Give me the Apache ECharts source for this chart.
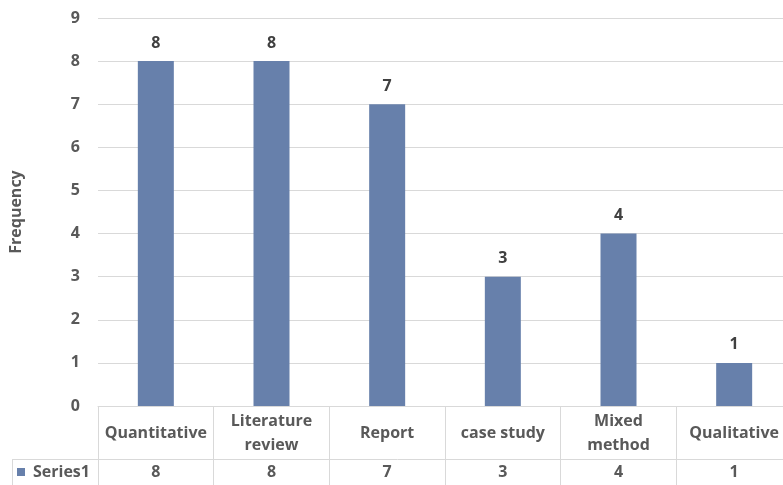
<!DOCTYPE html>
<html>
<head>
<meta charset="utf-8">
<style>
  html, body { margin: 0; padding: 0; background: #fff; }
  #chart { width: 783px; height: 485px; }
</style>
<script src="https://cdn.jsdelivr.net/npm/echarts@6/dist/echarts.min.js"></script>
</head>
<body>
<div id="chart"></div>
<script>
// Study types and how often each one appears
const categories = ['Quantitative', 'Literature\nreview', 'Report', 'case study', 'Mixed\nmethod', 'Qualitative'];
const seriesName = 'Series1';
const values = [8, 8, 7, 3, 4, 1];
const yTicks = [0, 1, 2, 3, 4, 5, 6, 7, 8, 9];

const FONT = '"Open Sans", Lato, sans-serif';
const TEXT = '#595959';
const LINE = '#d9d9d9';
const BAR = '#6780ab';

const chart = echarts.init(document.getElementById('chart'), null, { renderer: 'canvas' });

// the plot runs a little past the right edge of the canvas
const gridLeft = 98, gridWidth = 694, gridTop = 18, gridBottom = 79;
const H = 485, W = 783;
const rowSplit = 459;              // line between header row and values row

chart.setOption({
  animation: false,
  textStyle: { fontFamily: FONT },
  grid: {
    left: gridLeft, width: gridWidth, top: gridTop, bottom: gridBottom,
    containLabel: false,
    outerBoundsMode: 'none'
  },
  legend: {
    data: [seriesName],
    left: 17,
    top: rowSplit + 5,
    itemWidth: 8,
    itemHeight: 8,
    icon: 'rect',
    padding: [0, 0, 0, 0],
    textStyle: { color: TEXT, fontWeight: 'bold', fontSize: 16, fontFamily: FONT, padding: [0, 0, 0, 3] }
  },
  xAxis: [
    {
      type: 'category',
      data: categories,
      position: 'bottom',
      axisLine: { show: true, lineStyle: { color: LINE, width: 1 } },
      axisTick: { show: true, length: gridBottom, alignWithLabel: false, lineStyle: { color: LINE, width: 1 } },
      axisLabel: {
        interval: 0,
        margin: 27,
        verticalAlign: 'middle',
        color: TEXT,
        fontWeight: 'bold',
        fontSize: 16,
        lineHeight: 24,
        fontFamily: FONT
      }
    },
    {
      type: 'category',
      data: values.map(String),
      position: 'bottom',
      axisLine: { show: false },
      axisTick: { show: false },
      axisLabel: {
        interval: 0,
        margin: 66,
        verticalAlign: 'middle',
        color: TEXT,
        fontWeight: 'bold',
        fontSize: 16,
        fontFamily: FONT
      }
    }
  ],
  yAxis: {
    type: 'value',
    min: yTicks[0],
    max: yTicks[yTicks.length - 1],
    interval: 1,
    name: 'Frequency',
    nameLocation: 'middle',
    nameGap: 74,
    nameTextStyle: { color: TEXT, fontWeight: 'bold', fontSize: 16, fontFamily: FONT },
    axisLine: { show: false },
    axisTick: { show: false },
    splitLine: { lineStyle: { color: LINE, width: 1 } },
    axisLabel: { margin: 18, color: TEXT, fontWeight: 'bold', fontSize: 16, fontFamily: FONT }
  },
  series: [{
    name: seriesName,
    type: 'bar',
    data: values,
    barWidth: 36,
    itemStyle: { color: BAR },
    label: {
      show: true,
      position: 'top',
      distance: 10,
      color: '#404040',
      fontWeight: 'bold',
      fontSize: 16,
      fontFamily: FONT
    }
  }],
  graphic: [
    // horizontal rule between the category row and the values row
    { type: 'line', silent: true, shape: { x1: 12, y1: rowSplit + 0.5, x2: W, y2: rowSplit + 0.5 }, style: { stroke: LINE, lineWidth: 1 } },
    // left border of the legend cell
    { type: 'line', silent: true, shape: { x1: 12.5, y1: rowSplit, x2: 12.5, y2: H }, style: { stroke: LINE, lineWidth: 1 } }
  ]
});
</script>
</body>
</html>
